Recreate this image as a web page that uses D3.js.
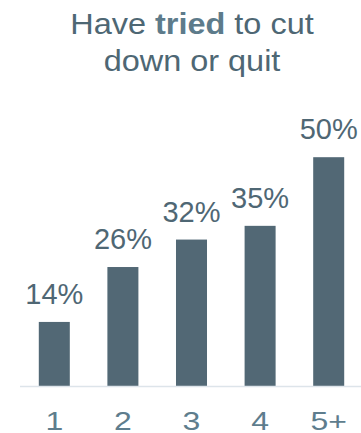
<!DOCTYPE html>
<html>
<head>
<meta charset="utf-8">
<script src="https://cdn.jsdelivr.net/npm/d3@7"></script>
<style>
  html, body { margin: 0; padding: 0; background: #ffffff; }
  svg { display: block; font-family: "Liberation Sans", Arial, sans-serif; }
</style>
</head>
<body>
<svg id="chart" width="361" height="433"></svg>
<script>
// Share who have tried to cut down or quit, by group
const categories = ["1", "2", "3", "4", "5+"];
const values = [14, 26, 32, 35, 50];
const valueLabels = ["14%", "26%", "32%", "35%", "50%"];
const titleLine1 = [
  { text: "Have ", bold: false },
  { text: "tried", bold: true },
  { text: " to cut", bold: false }
];
const titleLine2 = "down or quit";

const W = 361, H = 433;
const svg = d3.select("#chart");

const x = d3.scaleBand()
  .domain(categories)
  .range([20, 363])
  .paddingInner(0.548)
  .paddingOuter(0.274);

const y = d3.scaleLinear()
  .domain([0, 50])
  .range([386, 157.2]);

// Title, slightly widened letterforms
const titleG = svg.append("g").attr("transform", "translate(192,0) scale(1.1,1)");
const title = titleG.append("text")
  .attr("x", 0)
  .attr("text-anchor", "middle")
  .attr("font-size", 29.5)
  .attr("fill", "#4e6774");
const l1 = title.append("tspan").attr("x", 0).attr("y", 34.5);
titleLine1.forEach(p => {
  l1.append("tspan")
    .attr("font-weight", p.bold ? "bold" : "normal")
    .attr("fill", p.bold ? "#5d7b8b" : "#4e6774")
    .text(p.text);
});
title.append("tspan").attr("x", 0).attr("y", 71).text(titleLine2);

// Bars
svg.append("g").selectAll("rect")
  .data(values)
  .join("rect")
  .attr("x", (d, i) => x(categories[i]))
  .attr("y", d => y(d))
  .attr("width", x.bandwidth())
  .attr("height", d => y(0) - y(d))
  .attr("fill", "#526875");

// Value labels
svg.append("g").selectAll("text")
  .data(values)
  .join("text")
  .attr("x", (d, i) => x(categories[i]) + x.bandwidth() / 2)
  .attr("y", d => y(d) - 18)
  .attr("text-anchor", "middle")
  .attr("font-size", 29)
  .attr("fill", "#4f6774")
  .text((d, i) => valueLabels[i]);

// Baseline
svg.append("line")
  .attr("x1", 20).attr("x2", W)
  .attr("y1", y(0) + 0.5).attr("y2", y(0) + 0.5)
  .attr("stroke", "#dde4ea")
  .attr("stroke-width", 1.5);

// Category axis labels (wide letterforms)
const xAxis = d3.axisBottom(x).tickSize(0).tickPadding(0);
const gx = svg.append("g")
  .attr("transform", "translate(0, 429.5)")
  .call(xAxis);
gx.select(".domain").remove();
gx.selectAll(".tick text")
  .attr("dy", 0)
  .attr("y", 0)
  .attr("transform", "scale(1.28,1)")
  .attr("font-size", 25)
  .attr("font-family", "Liberation Sans, Arial, sans-serif")
  .attr("fill", "#5e7d8d");
</script>
</body>
</html>
